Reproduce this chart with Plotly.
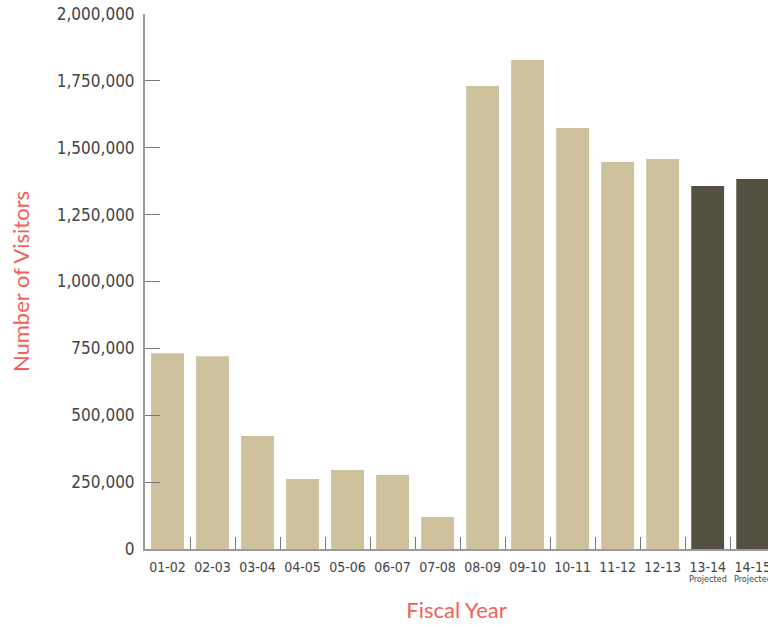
import plotly.graph_objects as go

# Visitors per fiscal year (last two are projections)
fiscal_years = ["01-02", "02-03", "03-04", "04-05", "05-06", "06-07", "07-08",
                "08-09", "09-10", "10-11", "11-12", "12-13", "13-14", "14-15"]
visitors = [732000, 721000, 422000, 262000, 295000, 277000, 120000,
            1731000, 1828000, 1574000, 1447000, 1458000, 1357000, 1383000]
projected = [False] * 12 + [True, True]

y_ticks = [0, 250000, 500000, 750000, 1000000, 1250000, 1500000, 1750000, 2000000]

ACTUAL = "#CDC19E"
PROJ = "#545042"
AXIS = "#9a9a9a"
TEXT = "#444444"
ACCENT = "#F26158"
FONT = "DejaVu Sans Condensed, Liberation Sans Narrow, sans-serif"

fig = go.Figure(
    go.Bar(
        x=fiscal_years,
        y=visitors,
        marker=dict(color=[PROJ if p else ACTUAL for p in projected], line=dict(width=0)),
        width=0.73,
        hoverinfo="x+y",
    )
)

# small "Projected" note under the projected years' labels
for fy, p in zip(fiscal_years, projected):
    if p:
        fig.add_annotation(
            x=fy, y=0, xref="x", yref="y",
            text="Projected", showarrow=False,
            yanchor="top", yshift=-23,
            font=dict(size=9, color=TEXT, family=FONT),
        )

fig.update_layout(
    width=768,
    height=627,
    margin=dict(l=145, r=0, t=14, b=78),
    paper_bgcolor="white",
    plot_bgcolor="white",
    showlegend=False,
    font=dict(family=FONT, color=TEXT),
)

fig.update_xaxes(
    type="category",
    range=[-0.5, 13.34],
    autorange=False,
    automargin=False,
    tickangle=0,
    tickmode="array",
    tickvals=fiscal_years,
    ticktext=fiscal_years,
    tickson="boundaries",
    ticks="inside",
    ticklen=12,
    tickcolor="#777777",
    tickwidth=1,
    showline=True,
    linecolor=AXIS,
    linewidth=2,
    showgrid=False,
    zeroline=False,
    tickfont=dict(size=14, color=TEXT, family=FONT),
    ticklabelstandoff=4,
    title=dict(text="Fiscal Year", font=dict(size=22, color=ACCENT,
               family="Lato, Open Sans, sans-serif"), standoff=29),
)

fig.update_yaxes(
    range=[0, 2000000],
    autorange=False,
    automargin=False,
    tickmode="array",
    tickvals=y_ticks,
    tickformat=",",
    ticks="inside",
    ticklen=15,
    tickcolor="#777777",
    tickwidth=1,
    showline=True,
    linecolor=AXIS,
    linewidth=2,
    showgrid=False,
    zeroline=False,
    tickfont=dict(size=17, color=TEXT, family=FONT),
    ticklabelstandoff=5,
    title=dict(text="Number of Visitors", font=dict(size=22, color=ACCENT,
               family="Lato, Open Sans, sans-serif"), standoff=21),
)

fig.write_html("out.html")
